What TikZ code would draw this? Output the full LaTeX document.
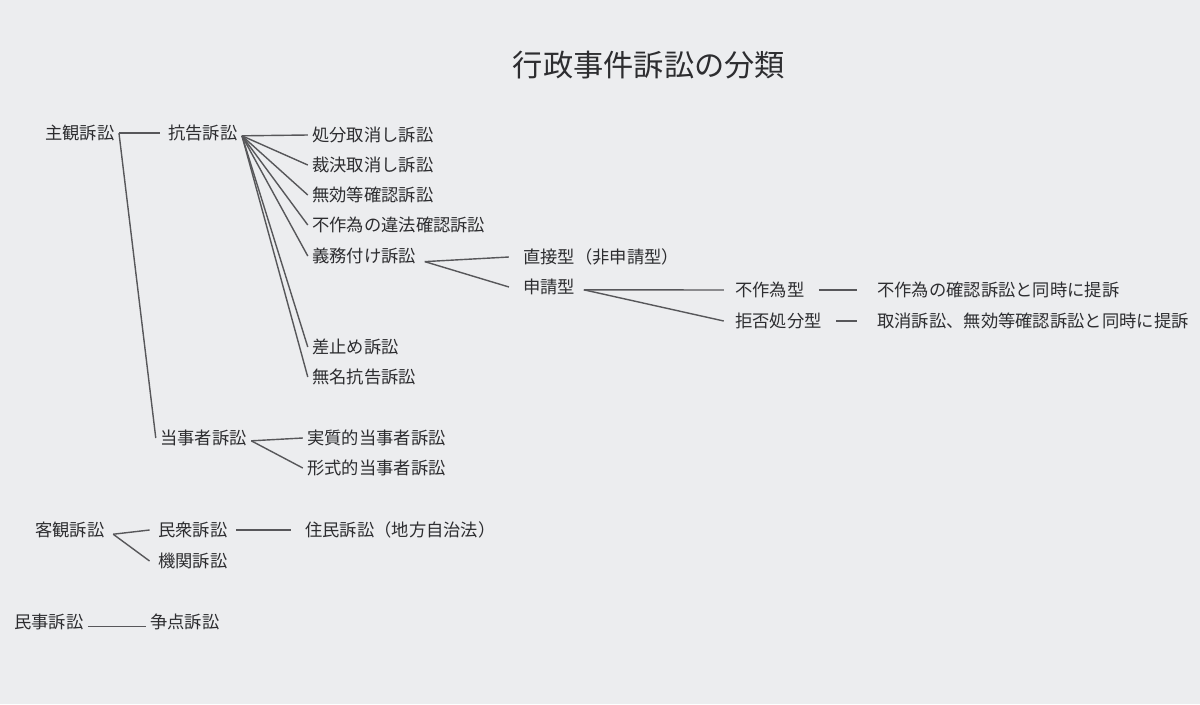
\documentclass[tikz,border=0pt]{standalone}
\usepackage{fontspec}
\setmainfont{Noto Sans CJK JP}
\usepackage{tikz}
\usetikzlibrary{positioning}
\definecolor{paper}{RGB}{236,237,239}
\definecolor{ink}{RGB}{45,45,48}
\tikzstyle{item} = [anchor=west, inner sep=0pt, text=ink, font=\fontsize{12.3}{13}\selectfont]
\tikzstyle{line} = [draw, ink!80, line width=1pt]

\begin{document}
\begin{tikzpicture}[x=0.025cm, y=-0.025cm]
    \fill[paper] (0,0) rectangle (1200,704);
    % Place nodes
    \node [text=ink, inner sep=0pt, font=\fontsize{21.5}{23}\selectfont] (title) at (649,65) {行政事件訴訟の分類};
    \node [item] (shukan) at (45,133) {主観訴訟};
    \node [item] (kokoku) at (168,133) {抗告訴訟};
    \node [item] (shobun) at (312,135) {処分取消し訴訟};
    \node [item] (saiketsu) at (312,165) {裁決取消し訴訟};
    \node [item] (muko) at (312,195) {無効等確認訴訟};
    \node [item] (fusakui) at (312,225) {不作為の違法確認訴訟};
    \node [item] (gimu) at (312,256) {義務付け訴訟};
    \node [item] (chokusetsu) at (523,257) {直接型（非申請型）};
    \node [item] (shinsei) at (523,287) {申請型};
    \node [item] (fusakuigata) at (735,290) {不作為型};
    \node [item] (fusakuinote) at (877,290) {不作為の確認訴訟と同時に提訴};
    \node [item] (kyohi) at (735,321) {拒否処分型};
    \node [item] (kyohinote) at (877,321) {取消訴訟、無効等確認訴訟と同時に提訴};
    \node [item] (sashitome) at (312,347) {差止め訴訟};
    \node [item] (mumei) at (312,377) {無名抗告訴訟};
    \node [item] (tojisha) at (160,438) {当事者訴訟};
    \node [item] (jisshitsu) at (307,438) {実質的当事者訴訟};
    \node [item] (keishiki) at (307,468) {形式的当事者訴訟};
    \node [item] (kyakkan) at (35,530) {客観訴訟};
    \node [item] (minshu) at (158,530) {民衆訴訟};
    \node [item] (jumin) at (305,530) {住民訴訟（地方自治法）};
    \node [item] (kikan) at (158,561) {機関訴訟};
    \node [item] (minji) at (14,622) {民事訴訟};
    \node [item] (soten) at (150,622) {争点訴訟};
    % Draw edges
    \path [line] ([xshift=3pt]shukan.east) -- ([xshift=-6pt]kokoku.west);
    \path [line] ([xshift=3pt]shukan.east) -- ([xshift=-3pt]tojisha.west);
    \foreach \c in {shobun,saiketsu,muko,fusakui,gimu,sashitome,mumei}
        \path [line] ([xshift=3pt,yshift=-2pt]kokoku.east) -- ([xshift=-3pt]\c.west);
    \foreach \c in {chokusetsu,shinsei}
        \path [line] ([xshift=6pt,yshift=-4pt]gimu.east) -- ([xshift=-10pt]\c.west);
    \foreach \c in {fusakuigata,kyohi}
        \path [line] ([xshift=6pt,yshift=-2pt]shinsei.east) -- ([xshift=-8pt]\c.west);
    \path [line] ([xshift=10pt]fusakuigata.east) -- ([xshift=-14pt]fusakuinote.west);
    \path [line] ([xshift=10pt]kyohi.east) -- ([xshift=-14pt]kyohinote.west);
    \foreach \c in {jisshitsu,keishiki}
        \path [line] ([xshift=3pt,yshift=-2pt]tojisha.east) -- ([xshift=-3pt]\c.west);
    \foreach \c in {minshu,kikan}
        \path [line] ([xshift=6pt,yshift=-3pt]kyakkan.east) -- ([xshift=-6pt]\c.west);
    \path [line] ([xshift=6pt]minshu.east) -- ([xshift=-10pt]jumin.west);
    \path [line] ([xshift=3pt,yshift=-3pt]minji.east) -- ([xshift=-3pt,yshift=-3pt]soten.west);
\end{tikzpicture}
\end{document}
